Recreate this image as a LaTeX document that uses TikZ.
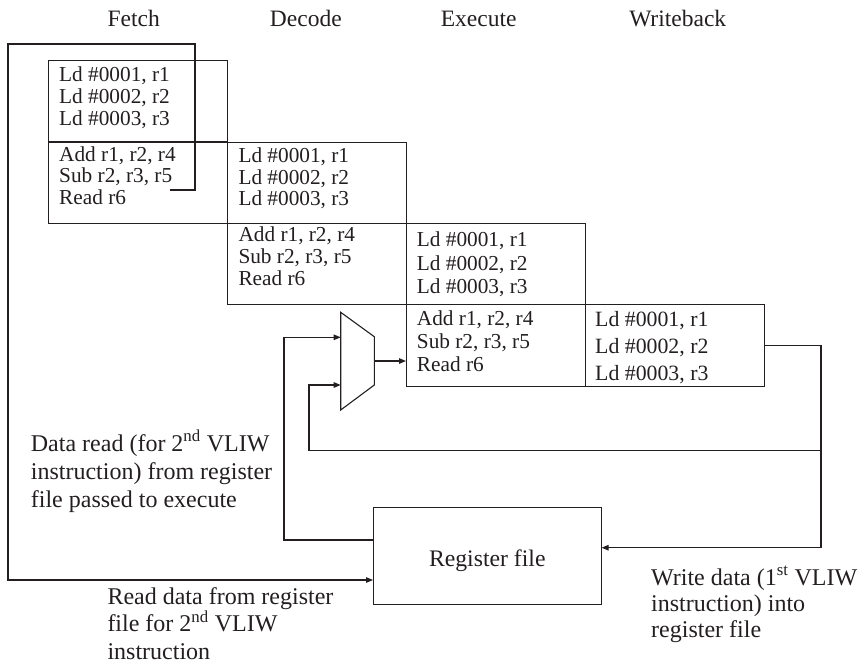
\documentclass[tikz,border=0pt]{standalone}
\usepackage{fontspec}
\setmainfont{Liberation Serif}
\usetikzlibrary{arrows.meta,calc}
\definecolor{ink}{RGB}{35,31,32}

% three text lines stacked at a fixed baseline skip:
% #1 name, #2 style, #3 x, #4 first baseline, #5 skip, #6-#8 lines
\newcommand{\threelines}[8]{%
  \node[#2] (#1-1) at (#3,#4) {#6};
  \node[#2] (#1-2) at (#3,#4+#5) {#7};
  \node[#2] (#1-3) at (#3,#4+2*#5) {#8};}

\begin{document}
\begin{tikzpicture}[x=1pt,y=-1pt,
  every node/.style={text=ink},
  instr/.style={anchor=base west, inner sep=0pt, font=\fontsize{21.3pt}{21.3pt}\selectfont},
  instrwide/.style={anchor=base west, inner sep=0pt, font=\fontsize{21.8pt}{21.8pt}\selectfont},
  note/.style={anchor=base west, inner sep=0pt, font=\fontsize{24pt}{24pt}\selectfont},
  head/.style={anchor=base, inner sep=0pt, font=\fontsize{23.5pt}{23.5pt}\selectfont},
  cell/.style={draw=ink, line width=1.1pt, rectangle, inner sep=0pt,
    minimum width=179pt, minimum height=81.4pt, anchor=north west},
  wire/.style={draw=ink, line width=1.1pt},
  arrow/.style={wire, -{Triangle[length=7pt,width=5.5pt]}},
]
\useasboundingbox (0,0) rectangle (858,665);

% stage headings
\node[head] (hfetch) at (133.7,26.7) {Fetch};
\node[head] (hdecode) at (305.8,26.7) {Decode};
\node[head] (hexec) at (478.7,26.7) {Execute};
\node[head] (hwb) at (677.7,26.7) {Writeback};

% pipeline cells
\node[cell] (f1) at (48.3,60) {};
\node[cell] (f2) at (48.3,141.5) {};
\node[cell] (d1) at (227.3,141.5) {};
\node[cell] (d2) at (227.3,222.9) {};
\node[cell] (e1) at (406,222.9) {};
\node[cell] (e2) at (406,304.3) {};
\node[cell] (w)  at (585,304.3) {};

% instruction words in each cell
\threelines{f1t}{instr}{59}{81.7}{21.7}{Ld \#0001, r1}{Ld \#0002, r2}{Ld \#0003, r3}
\threelines{f2t}{instr}{59}{161}{21.7}{Add r1, r2, r4}{Sub r2, r3, r5}{Read r6}
\threelines{d1t}{instr}{238.3}{162.3}{21.8}{Ld \#0001, r1}{Ld \#0002, r2}{Ld \#0003, r3}
\threelines{d2t}{instr}{238.3}{241.7}{21.7}{Add r1, r2, r4}{Sub r2, r3, r5}{Read r6}
\threelines{e1t}{instr}{416.7}{246.7}{23.3}{Ld \#0001, r1}{Ld \#0002, r2}{Ld \#0003, r3}
\threelines{e2t}{instr}{416.7}{325}{23.3}{Add r1, r2, r4}{Sub r2, r3, r5}{Read r6}
\threelines{wt}{instrwide}{595}{326.7}{26.7}{Ld \#0001, r1}{Ld \#0002, r2}{Ld \#0003, r3}

% operand multiplexer in front of execute
\draw[wire, line join=miter] (340.7,312.3) -- (374.3,336.7) -- (374.3,385) -- (340.7,410) -- cycle;
\coordinate (mux-in1) at (340.7,337.3);
\coordinate (mux-in2) at (340.7,385);
\coordinate (mux-out) at (374.3,361);

% register file
\node[draw=ink, line width=1.1pt, rectangle, inner sep=0pt,
  minimum width=227.5pt, minimum height=97pt,
  text height=20pt, text depth=0pt,
  font=\fontsize{23.7pt}{23.7pt}\selectfont] (reg) at (487.3,556) {Register file};

% connectors
\coordinate (fbEnd) at (170,190);
\coordinate (busX) at (821,450.7);
\draw[arrow] (mux-out) -- (mux-out -| e2.west);
\draw[arrow] (w.east) -| (busX) |- ([yshift=8.3pt]reg.east);
\draw[arrow] (busX) -| ([xshift=-31.7pt]mux-in2) -- (mux-in2);
\draw[arrow] ([yshift=16pt]reg.west) -| ([xshift=-56.7pt]mux-in1) -- (mux-in1);
\draw[arrow, line join=miter] (fbEnd) -- (195,190) -- (195,44) -- (8,44) |- ([yshift=-24pt]reg.west);

% annotations
\threelines{n1}{note}{30.7}{451}{28.3}{Data read (for 2\textsuperscript{nd} VLIW}{instruction) from register}{file passed to execute}
\threelines{n2}{note}{107.3}{604}{27.5}{Read data from register}{file for 2\textsuperscript{nd} VLIW}{instruction}
\threelines{n3}{note}{651}{585}{26}{Write data (1\textsuperscript{st} VLIW}{instruction) into}{register file}
\end{tikzpicture}
\end{document}
